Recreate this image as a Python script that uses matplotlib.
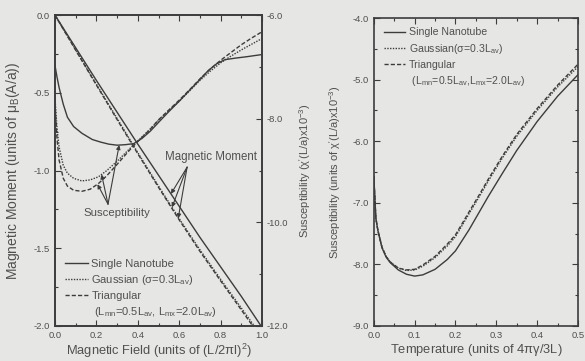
import numpy as np
import matplotlib
matplotlib.use("Agg")
import matplotlib.pyplot as plt
from matplotlib.lines import Line2D
from matplotlib.ticker import MultipleLocator

plt.rcParams['font.family'] = ['Liberation Sans', 'DejaVu Sans']
plt.rcParams['mathtext.fontset'] = 'custom'
plt.rcParams['mathtext.rm'] = 'Liberation Sans'
plt.rcParams['mathtext.it'] = 'Liberation Sans:italic'
plt.rcParams['mathtext.default'] = 'regular'

# ---- left panel: magnetic moment vs field ----
field = [0.0, 0.1, 0.2, 0.3, 0.4, 0.5, 0.6, 0.7, 0.8, 0.9, 1.0]
moment_single = [0.0, -0.21, -0.42, -0.625, -0.83, -1.03, -1.23, -1.43, -1.62, -1.81, -2.01]
moment_gauss = [0.0, -0.222, -0.444, -0.665, -0.885, -1.10, -1.31, -1.51, -1.70, -1.885, -2.07]
moment_tri = [0.0, -0.226, -0.45, -0.672, -0.892, -1.108, -1.318, -1.52, -1.71, -1.897, -2.085]

# ---- left panel: susceptibility vs field ----
field_s = [0.0, 0.01, 0.02, 0.04, 0.06, 0.09, 0.13, 0.18, 0.22, 0.26, 0.30, 0.34,
           0.38, 0.42, 0.46, 0.50, 0.55, 0.60, 0.65, 0.70, 0.74, 0.78, 0.82,
           0.87, 0.93, 1.0]
chi_single = [-6.97, -7.2, -7.4, -7.72, -7.97, -8.15, -8.28, -8.4, -8.45, -8.49, -8.51, -8.5,
              -8.48, -8.38, -8.24, -8.07, -7.86, -7.66, -7.45, -7.24, -7.07, -6.94, -6.86,
              -6.83, -6.8, -6.76]
field_d = [0.0, 0.01, 0.02, 0.04, 0.06, 0.09, 0.13, 0.17, 0.21, 0.25, 0.30, 0.35, 0.38,
           0.42, 0.46, 0.50, 0.55, 0.60, 0.65, 0.70, 0.75, 0.80, 0.85, 0.90, 0.95, 1.0]
chi_gauss = [-7.6, -8.2, -8.55, -8.9, -9.05, -9.15, -9.2, -9.18, -9.12, -9.0, -8.82, -8.62, -8.5,
             -8.35, -8.2, -8.03, -7.84, -7.66, -7.46, -7.26, -7.08, -6.92, -6.79, -6.67, -6.56, -6.45]
chi_tri = [-7.7, -8.4, -8.8, -9.15, -9.3, -9.38, -9.4, -9.36, -9.25, -9.1, -8.88, -8.65, -8.52,
           -8.36, -8.2, -8.02, -7.83, -7.64, -7.44, -7.23, -7.04, -6.87, -6.72, -6.57, -6.44, -6.32]

# ---- right panel: susceptibility vs temperature ----
temp = [0.0, 0.005, 0.01, 0.02, 0.03, 0.04, 0.06, 0.08, 0.10, 0.12, 0.15, 0.18, 0.20,
        0.233, 0.26, 0.28, 0.315, 0.35, 0.40, 0.45, 0.50]
chiT_single = [-6.57, -7.25, -7.45, -7.73, -7.88, -7.97, -8.09, -8.16, -8.19, -8.17, -8.08,
               -7.92, -7.78, -7.44, -7.13, -6.90, -6.52, -6.15, -5.68, -5.27, -4.92]
chiT_gauss = [-6.57, -7.25, -7.45, -7.72, -7.87, -7.96, -8.06, -8.10, -8.09, -8.03, -7.89,
              -7.70, -7.55, -7.18, -6.88, -6.65, -6.27, -5.92, -5.50, -5.12, -4.79]
chiT_tri = [-6.57, -7.25, -7.45, -7.72, -7.87, -7.96, -8.06, -8.09, -8.08, -8.01, -7.87,
            -7.67, -7.52, -7.15, -6.85, -6.62, -6.24, -5.89, -5.47, -5.09, -4.75]

lbl_single = 'Single Nanotube'
lbl_gauss_l = r'Gaussian ($\sigma$=0.3L$_{\rm av}$)'
lbl_gauss_r = r'Gaussian($\sigma$=0.3L$_{\rm av}$)'
lbl_tri = 'Triangular'
lbl_tri2_l = r' (L$_{\rm mn}$=0.5L$_{\rm av}$, L$_{\rm mx}$=2.0L$_{\rm av}$)'
lbl_tri2_r = r' (L$_{\rm mn}$=0.5L$_{\rm av}$,L$_{\rm mx}$=2.0L$_{\rm av}$)'

BG = '#e6e6e4'
INK = '#3c3c3c'
TXT = '#505050'
LW = 1.0
STY_SINGLE = dict(color=INK, lw=LW, linestyle='-')
STY_GAUSS = dict(color=INK, lw=LW, linestyle=(0, (1, 1)))
STY_TRI = dict(color=INK, lw=LW, linestyle=(0, (3, 1.5)))

fig = plt.figure(figsize=(5.85, 3.61), dpi=100, facecolor=BG)
axL = fig.add_axes([0.094, 0.097, 0.354, 0.861], facecolor=BG)
axR = fig.add_axes([0.639, 0.097, 0.349, 0.853], facecolor=BG)
axL2 = axL.twinx()


def style_axis(ax):
    for s in ax.spines.values():
        s.set_color(INK)
        s.set_linewidth(1.2)
    ax.tick_params(which='both', direction='in', colors=INK, labelcolor=TXT,
                   labelsize=6.8, width=0.8)
    ax.tick_params(which='major', length=4)
    ax.tick_params(which='minor', length=2.5)


# left panel, moment lines
axL.plot(field, moment_single, **STY_SINGLE)
axL.plot(field, moment_gauss, **STY_GAUSS)
axL.plot(field, moment_tri, **STY_TRI)
axL.set_xlim(0, 1.0)
axL.set_ylim(-2.0, 0.0)
axL.xaxis.set_major_locator(MultipleLocator(0.2))
axL.xaxis.set_minor_locator(MultipleLocator(0.1))
axL.yaxis.set_major_locator(MultipleLocator(0.5))
axL.yaxis.set_minor_locator(MultipleLocator(0.25))
axL.xaxis.set_major_formatter(plt.FormatStrFormatter('%.1f'))
axL.yaxis.set_major_formatter(plt.FormatStrFormatter('%.1f'))
style_axis(axL)
axL.tick_params(which='both', top=True)
axL.set_xlabel(r'Magnetic Field (units of (L/2$\pi$l)$^2$)', fontsize=9.3, color=TXT)
axL.set_ylabel(r'Magnetic Moment (units of $\mu_{\rm B}$(A/a))', fontsize=10, color=TXT)
axL.xaxis.set_label_coords(0.5, -0.052)
axL.yaxis.set_label_coords(-0.16, 0.5)

# left panel, susceptibility curves
axL2.plot(field_s, chi_single, **STY_SINGLE)
axL2.plot(field_d, chi_gauss, **STY_GAUSS)
axL2.plot(field_d, chi_tri, **STY_TRI)
axL2.set_ylim(-12.0, -6.0)
axL2.yaxis.set_major_locator(MultipleLocator(2.0))
axL2.yaxis.set_minor_locator(MultipleLocator(1.0))
axL2.yaxis.set_major_formatter(plt.FormatStrFormatter('%.1f'))
style_axis(axL2)
axL2.set_ylabel(r"Susceptibility ($\chi'$(L/a)x10$^{-3}$)", fontsize=8, color=TXT)
axL2.yaxis.set_label_coords(1.17, 0.5)

# arrows to the moment lines
arrow_kw = dict(arrowstyle='-|>', color=INK, lw=0.8, mutation_scale=6, shrinkA=0, shrinkB=0)
mm_vertex = (0.638, 0.511)
for xs, ys, b in ((field, moment_single, 0.56), (field, moment_gauss, 0.565),
                  (field, moment_tri, 0.595)):
    axL.annotate('', xy=(b, np.interp(b, xs, ys)), xycoords='data',
                 xytext=mm_vertex, textcoords='axes fraction', arrowprops=arrow_kw)
axL.text(0.754, 0.545, 'Magnetic Moment', transform=axL.transAxes, ha='center',
         va='center', fontsize=8.3, color=TXT)

# arrows to the susceptibility curves
sus_vertex = (0.256, 0.392)
for xs, ys, b in ((field_s, chi_single, 0.31), (field_d, chi_gauss, 0.225),
                  (field_d, chi_tri, 0.205)):
    axL2.annotate('', xy=(b, np.interp(b, xs, ys)), xycoords='data',
                  xytext=sus_vertex, textcoords='axes fraction', arrowprops=arrow_kw)
axL.text(0.30, 0.362, 'Susceptibility', transform=axL.transAxes, ha='center',
         va='center', fontsize=8.2, color=TXT)

# left legend
handles = [Line2D([], [], **STY_SINGLE), Line2D([], [], **STY_GAUSS),
           Line2D([], [], **STY_TRI), Line2D([], [], linestyle='none')]
legL = axL.legend(handles, [lbl_single, lbl_gauss_l, lbl_tri, lbl_tri2_l],
                  loc='upper left', bbox_to_anchor=(0.05, 0.215), frameon=False,
                  fontsize=8, handlelength=2.0, handletextpad=0.35,
                  labelspacing=0.35, borderpad=0, borderaxespad=0)
for t in legL.get_texts():
    t.set_color(TXT)

# right panel
axR.plot(temp, chiT_single, **STY_SINGLE)
axR.plot(temp, chiT_gauss, **STY_GAUSS)
axR.plot(temp, chiT_tri, **STY_TRI)
axR.set_xlim(0, 0.5)
axR.set_ylim(-9.0, -4.0)
axR.xaxis.set_major_locator(MultipleLocator(0.1))
axR.xaxis.set_minor_locator(MultipleLocator(0.05))
axR.yaxis.set_major_locator(MultipleLocator(1.0))
axR.yaxis.set_minor_locator(MultipleLocator(0.5))
axR.xaxis.set_major_formatter(plt.FormatStrFormatter('%.1f'))
axR.yaxis.set_major_formatter(plt.FormatStrFormatter('%.1f'))
style_axis(axR)
axR.tick_params(which='both', top=True, right=True)
axR.set_xlabel(r'Temperature (units of 4$\pi\gamma$/3L)', fontsize=9.3, color=TXT)
axR.set_ylabel(r"Susceptibility (units of $\chi'$(L/a)x10$^{-3}$)", fontsize=8, color=TXT)
axR.xaxis.set_label_coords(0.5, -0.052)
axR.yaxis.set_label_coords(-0.152, 0.5)

legR = axR.legend(handles, [lbl_single, lbl_gauss_r, lbl_tri, lbl_tri2_r],
                  loc='upper left', bbox_to_anchor=(0.05, 0.97), frameon=False,
                  fontsize=7.6, handlelength=2.0, handletextpad=0.35,
                  labelspacing=0.4, borderpad=0, borderaxespad=0)
for t in legR.get_texts():
    t.set_color(TXT)

fig.savefig('out.png', dpi=100, facecolor=BG)
